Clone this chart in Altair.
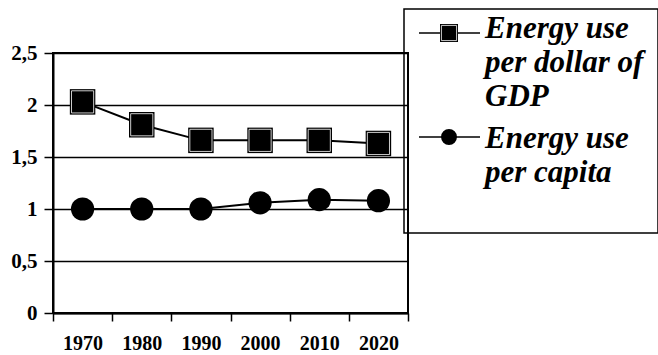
import altair as alt
import pandas as pd

years = ["1970", "1980", "1990", "2000", "2010", "2020"]
per_gdp = [2.03, 1.81, 1.66, 1.66, 1.66, 1.63]
per_capita = [1.00, 1.00, 1.00, 1.06, 1.09, 1.08]
y_ticks = [0, 0.5, 1, 1.5, 2, 2.5]
series_names = ["Energy use per dollar of GDP", "Energy use per capita"]
legend_labels = ["Energy use\nper dollar of\nGDP", "Energy use\nper capita"]

df = pd.DataFrame({
    "year": years + years,
    "value": per_gdp + per_capita,
    "series": [series_names[0]] * len(years) + [series_names[1]] * len(years),
})

FONT = "Liberation Serif"

x = alt.X("year:N", sort=years,
          scale=alt.Scale(type="band", paddingInner=0, paddingOuter=0),
          axis=alt.Axis(title=None, labelAngle=0, tickBand="extent", grid=False,
                        domainColor="black", domainWidth=2, tickColor="black",
                        tickWidth=1.5, tickSize=8, labelPadding=12,
                        labelFont=FONT, labelFontWeight="bold", labelFontSize=20,
                        labelColor="black"))
y = alt.Y("value:Q", scale=alt.Scale(domain=[0, 2.5], nice=False, zero=True),
          axis=alt.Axis(title=None, values=y_ticks,
                        labelExpr="replace(format(datum.value, '~g'), '.', ',')",
                        grid=True, gridColor="black", gridWidth=1.3, gridOpacity=1,
                        domainColor="black", domainWidth=2, tickColor="black",
                        tickWidth=1.5, tickSize=9, labelPadding=7,
                        labelFont=FONT, labelFontWeight="bold", labelFontSize=21,
                        labelColor="black"))

base = alt.Chart(df).encode(x=x, y=y)

lines = base.mark_line(color="black", strokeWidth=2).encode(detail="series:N")
squares = base.transform_filter(alt.datum.series == series_names[0]).mark_point(
    shape="square", filled=True, color="black", size=650, opacity=1)
squares_hi = base.transform_filter(alt.datum.series == series_names[0]).mark_point(
    shape="square", filled=False, color="white", size=490, strokeWidth=0.8, opacity=1)
circles = base.transform_filter(alt.datum.series == series_names[1]).mark_point(
    shape="circle", filled=True, color="black", size=540, opacity=1)

# Legend (manual)
leg_df = pd.DataFrame({"label": [legend_labels[0]]})
leg_box = alt.Chart(leg_df).mark_rect(fill="white", fillOpacity=0, stroke="black", strokeWidth=1.5).encode(
    x=alt.value(351), x2=alt.value(605), y=alt.value(-44), y2=alt.value(180))
leg_line1 = alt.Chart(leg_df).mark_rule(color="black", strokeWidth=1.3).encode(
    x=alt.value(366), x2=alt.value(427), y=alt.value(-20))
leg_line2 = alt.Chart(leg_df).mark_rule(color="black", strokeWidth=1.3).encode(
    x=alt.value(366), x2=alt.value(427), y=alt.value(84))
leg_sq = alt.Chart(leg_df).mark_point(shape="square", filled=True, color="black", size=324, opacity=1).encode(
    x=alt.value(396), y=alt.value(-20))
leg_sq_hi = alt.Chart(leg_df).mark_point(shape="square", filled=False, color="white", size=230, strokeWidth=0.8, opacity=1).encode(
    x=alt.value(396), y=alt.value(-20))
leg_ci = alt.Chart(leg_df).mark_point(shape="circle", filled=True, color="black", size=254, opacity=1).encode(
    x=alt.value(396), y=alt.value(84))
leg_t1 = alt.Chart(pd.DataFrame({"label": [legend_labels[0]]})).mark_text(
    font=FONT, fontSize=31, fontWeight="bold", fontStyle="italic", align="left",
    baseline="alphabetic", lineBreak="\n", lineHeight=34, color="black").encode(
    x=alt.value(432), y=alt.value(-15), text="label:N")
leg_t2 = alt.Chart(pd.DataFrame({"label": [legend_labels[1]]})).mark_text(
    font=FONT, fontSize=31, fontWeight="bold", fontStyle="italic", align="left",
    baseline="alphabetic", lineBreak="\n", lineHeight=34, color="black").encode(
    x=alt.value(432), y=alt.value(95), text="label:N")

chart = alt.layer(lines, squares, squares_hi, circles,
                  leg_box, leg_line1, leg_line2, leg_sq, leg_sq_hi, leg_ci, leg_t1, leg_t2).properties(
    width=355, height=260,
    padding={"left": 53, "top": 53, "right": 250, "bottom": 42},
    autosize=alt.AutoSizeParams(type="none"),
    background="white",
).configure_view(stroke="black", strokeWidth=2)

chart.save("out.html", embed_options={"renderer": "svg", "actions": False})
